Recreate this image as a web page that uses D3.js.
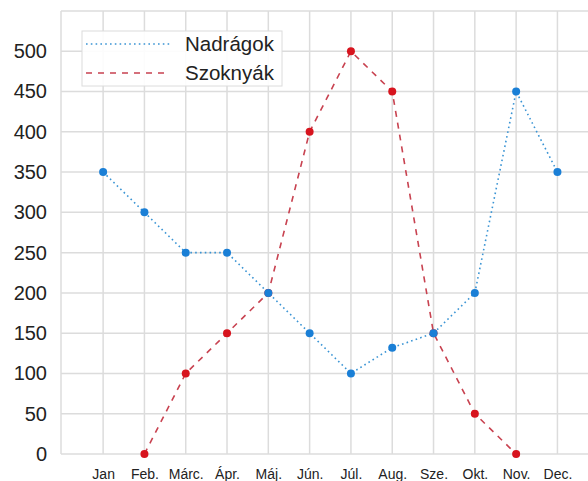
<!DOCTYPE html>
<html><head><meta charset="utf-8">
<script src="https://cdn.jsdelivr.net/npm/d3@7"></script>
<style>body{margin:0;background:#fff}svg{display:block}text{font-family:"Liberation Sans",Arial,sans-serif}</style>
</head><body>
<svg id="c" width="588" height="481"></svg>
<script>
const months = ["Jan","Feb.","Márc.","Ápr.","Máj.","Jún.","Júl.","Aug.","Sze.","Okt.","Nov.","Dec."];
const nadragok = [350,300,250,250,200,150,100,132,150,200,450,350];
const szoknyak = [null,0,100,150,200,400,500,450,150,50,0,null];
const yTicks = [0,50,100,150,200,250,300,350,400,450,500];
const seriesNames = ["Nadrágok","Szoknyák"];

(function(){
const svg = d3.select("#c");
const pL = 61, pR = 588, pT = 11, pB = 454;
const x = d3.scaleLinear().domain([-1.02, 11.74]).range([pL, pR]);
const y = d3.scaleLinear().domain([0, 550]).range([pB, pT]);

const grid = svg.append("g");
grid.selectAll("line.v").data(months).join("line").attr("class","v")
  .attr("x1",(d,i)=>x(i)).attr("x2",(d,i)=>x(i)).attr("y1",pT).attr("y2",pB)
  .attr("stroke","#dcdcdc").attr("stroke-width",1.5);
grid.selectAll("line.h").data(yTicks.concat([550])).join("line").attr("class","h")
  .attr("x1",pL).attr("x2",pR).attr("y1",d=>y(d)).attr("y2",d=>y(d))
  .attr("stroke","#dcdcdc").attr("stroke-width",1.5);
grid.append("line").attr("x1",pL).attr("x2",pL).attr("y1",pT).attr("y2",pB)
  .attr("stroke","#dcdcdc").attr("stroke-width",1.5);

const yAxis = d3.axisLeft(y).tickValues(yTicks).tickSize(0).tickPadding(14);
svg.append("g").attr("transform",`translate(${pL},0)`).call(yAxis)
  .call(g=>g.select(".domain").remove())
  .selectAll("text").attr("font-size",20).attr("fill","#222").attr("font-family","Liberation Sans, Arial, sans-serif");

const xAxis = d3.axisBottom(x).tickValues(d3.range(12)).tickFormat(i=>months[i]).tickSize(0).tickPadding(15);
svg.append("g").attr("transform",`translate(0,${pB})`).call(xAxis)
  .call(g=>g.select(".domain").remove())
  .selectAll("text").attr("font-size",14).attr("fill","#222").attr("font-family","Liberation Sans, Arial, sans-serif");

const line = d3.line().defined(d=>d!=null).x((d,i)=>x(i)).y(d=>y(d));
function draw(data, lineColor, dash, dotColor){
  svg.append("path").datum(data).attr("d", line).attr("fill","none")
    .attr("stroke",lineColor).attr("stroke-width",1.6).attr("stroke-dasharray",dash);
  svg.append("g").selectAll("circle").data(data.map((v,i)=>({v,i})).filter(d=>d.v!=null)).join("circle")
    .attr("cx",d=>x(d.i)).attr("cy",d=>y(d.v)).attr("r",4).attr("fill",dotColor);
}
draw(szoknyak, "#c84250", "6,6", "#d7141e");
draw(nadragok, "#3a94d4", "1.6,3.2", "#1a7fd6");

const lg = svg.append("g");
lg.append("rect").attr("x",82).attr("y",31).attr("width",200).attr("height",55)
  .attr("fill","#fff").attr("fill-opacity",0.9).attr("stroke","#dcdcdc").attr("stroke-width",1);
const leg = [{n:seriesNames[0],c:"#3a94d4",d:"1.6,3.2",yy:44},{n:seriesNames[1],c:"#c84250",d:"6,6",yy:73}];
leg.forEach(l=>{
  lg.append("line").attr("x1",86).attr("x2",170).attr("y1",l.yy).attr("y2",l.yy)
    .attr("stroke",l.c).attr("stroke-width",1.6).attr("stroke-dasharray",l.d);
  lg.append("text").attr("x",185).attr("y",l.yy).attr("dy","0.35em").attr("font-size",20.5).attr("fill","#222").text(l.n);
});
})();
</script>
</body></html>
